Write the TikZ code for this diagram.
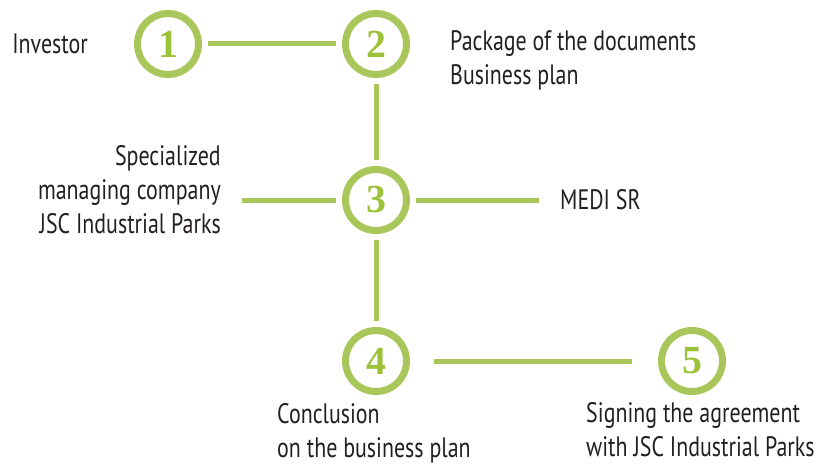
\documentclass[tikz,border=0pt]{standalone}
\usepackage{fontspec}
\setmainfont{PT Sans}[FakeStretch=0.78]
\newfontfamily\numfont{Liberation Serif}
\usetikzlibrary{positioning,calc}
\definecolor{ringcol}{RGB}{169,198,90}
\definecolor{digitcol}{RGB}{155,194,56}
\definecolor{textcol}{RGB}{35,31,32}

\begin{document}
\begin{tikzpicture}[
    stepnode/.style={circle, draw=ringcol, line width=0.21cm, minimum size=1.83cm, inner sep=0pt,
                     font=\numfont\bfseries\fontsize{34}{34}\selectfont, text=digitcol},
    link/.style={draw=ringcol, line width=0.15cm, shorten <=0.18cm, shorten >=0.18cm},
    txt/.style={inner sep=0pt, font=\fontsize{24}{29}\selectfont, text=textcol, align=#1},
    txt/.default=left,
]
\useasboundingbox (0,0) rectangle (24.6,-13.98);

% ============ STEPS ============
\node[stepnode] (n1) at (5.04,-1.32) {1};
\node[stepnode, right=4.2cm of n1] (n2) {2};
\node[stepnode, below=2.64cm of n2] (n3) {3};
\node[stepnode, below=2.79cm of n3] (n4) {4};
\node[stepnode, right=7.44cm of n4] (n5) {5};

% ============ LABELS ============
\node[txt, left=1.38cm of n1] (investor) {Investor};
\node[txt, anchor=north west] at ($(n2.east)+(1.2,0.4)$) (docs) {Package of the documents\\Business plan};
\node[txt=right, anchor=north east] at ($(n3.west)+(-3.63,1.65)$) (spec) {Specialized\\managing company\\JSC Industrial Parks};
\node[txt, right=4.5cm of n3] (medi) {MEDI SR};
\node[txt, anchor=north west] at ($(n4.south)+(-2.97,-0.24)$) (concl) {Conclusion\\on the business plan};
\node[txt, anchor=north west] at ($(n5.south)+(-3.18,-0.21)$) (sign) {Signing the agreement\\with JSC Industrial Parks};

% ============ LINKS ============
\draw[link] (n1) -- (n2);
\draw[link] (n2) -- (n3);
\draw[link] (n3) -- (n4);
\draw[link, shorten <=0.72cm, shorten >=0.78cm] (n4) -- (n5);
\draw[link, shorten >=0.63cm] (n3) -- (n3 -| spec.east);
\draw[link, shorten >=0.63cm] (n3) -- (medi);

\end{tikzpicture}
\end{document}
